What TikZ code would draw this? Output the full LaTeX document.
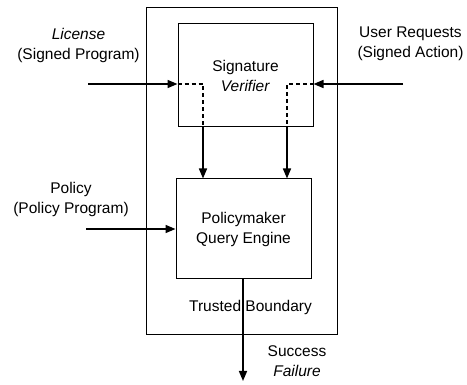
\documentclass[tikz,border=0pt]{standalone}
\usepackage{fontspec}
\setmainfont{Liberation Sans}
\usetikzlibrary{arrows.meta}
\begin{document}
\begin{tikzpicture}[x=1pt,y=-1pt,
  box/.style={draw,line width=1pt,inner sep=0pt,align=center},
  lbl/.style={align=center,inner sep=0pt,font=\fontsize{15.5}{20}\selectfont},
  arr/.style={line width=1.5pt,-{Triangle[length=10pt,width=8pt]}},
  dsh/.style={line width=1.2pt,dash pattern=on 4pt off 3pt}]
\useasboundingbox (0,0) rectangle (467,385);
\node[box,line width=0.8pt,minimum width=191pt,minimum height=327pt] (tb) at (241.5,170.5) {};
\node[box,minimum width=135pt,minimum height=103pt,lbl] (sv) at (245.5,75.5) {Signature\\\textit{Verifier}};
\node[box,minimum width=135pt,minimum height=100pt,lbl] (pq) at (243.5,229) {Policymaker\\Query Engine};
% labels
\node[lbl] (lic) at (78.5,45) {\textit{License}\\(Signed Program)};
\node[lbl] (usr) at (410.5,44) {User Requests\\(Signed Action)};
\node[lbl] (pol) at (71,199) {Policy\\(Policy Program)};
\node[lbl] (trb) at (250.5,307) {Trusted Boundary};
\node[lbl] (out) at (297,361) {Success\\\textit{Failure}};
% input coordinates
\coordinate (lin) at (88,84);
\coordinate (rin) at (403,84);
\coordinate (pin) at (86,229);
\coordinate (ld) at (203,84);
\coordinate (rd) at (287,84);
\coordinate (oend) at (243,381);
% license path
\draw[arr] (lin) -- (lin -| sv.west);
\draw[dsh] (lin -| sv.west) -- (ld) -- (ld |- sv.south);
\draw[arr] (ld |- sv.south) -- (ld |- pq.north);
% user requests path
\draw[arr] (rin) -- (rin -| sv.east);
\draw[dsh] (rin -| sv.east) -- (rd) -- (rd |- sv.south);
\draw[arr] (rd |- sv.south) -- (rd |- pq.north);
% policy
\draw[arr] (pin) -- (pin -| pq.west);
% output
\draw[arr] (oend |- pq.south) -- (oend);
\end{tikzpicture}
\end{document}
